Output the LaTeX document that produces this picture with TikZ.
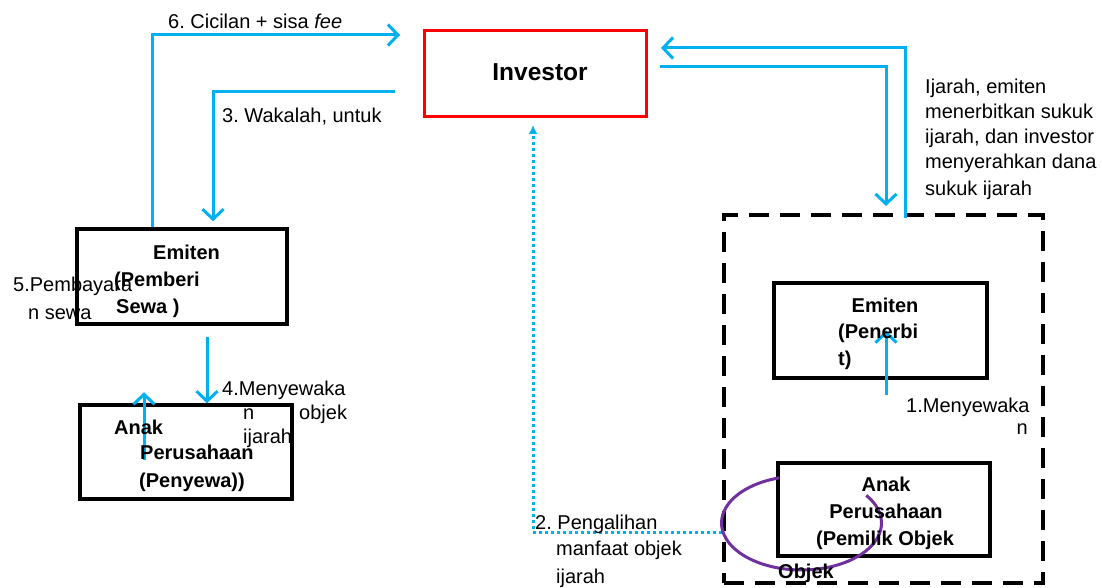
\documentclass[tikz,border=0pt]{standalone}
\usepackage{fontspec}
\setmainfont{Liberation Sans}
\usetikzlibrary{arrows.meta}
\definecolor{flowblue}{HTML}{00B0F0}
\definecolor{loopviolet}{HTML}{7030A0}
\frenchspacing
\tikzset{
    box/.style={draw, line width=3.5pt, inner sep=0pt},
    flow/.style={draw=flowblue, line width=3pt, -{Straight Barb[length=10pt,width=21pt,line width=3pt]}},
    dotflow/.style={draw=flowblue, line width=3pt, dash pattern=on 3pt off 3pt, -{Latex[length=9pt,width=9pt]}},
    txt/.style={anchor=base west, inner sep=0pt, font=\fontsize{20}{24}\selectfont},
    btxt/.style={txt, font=\fontsize{20}{24}\selectfont\bfseries},
}
\begin{document}
\begin{tikzpicture}[x=1pt, y=-1pt]
    \useasboundingbox (0,0) rectangle (1102,588);
    
    % Boxes
    \node[box, draw=red, line width=3pt, minimum width=222pt, minimum height=86pt,
          font=\fontsize{24.5}{28}\selectfont\bfseries] (investor) at (535,74)
          {\hspace*{10pt}\raisebox{4pt}{Investor}};
    \node[box, minimum width=210pt, minimum height=95pt] (emitenL) at (182,276.5) {};
    \node[box, minimum width=212pt, minimum height=94pt] (anakL) at (186,452) {};
    \node[draw, line width=4pt, dash pattern=on 20pt off 11pt, minimum width=319pt, minimum height=368pt] (group) at (883.5,399) {};
    \node[box, minimum width=213pt, minimum height=95pt] (emitenR) at (880.5,330.5) {};
    \node[box, minimum width=212pt, minimum height=93pt] (anakR) at (884,509.5) {};
    
    % Free ends
    \coordinate (t6) at (400,35);
    \coordinate (s3) at (395,92);
    \coordinate (t7) at (661,48);
    \coordinate (s8) at (660,67);
    \coordinate (s4) at (207,337);
    \coordinate (s5) at (144,460);
    \coordinate (s1) at (886,395);
    \coordinate (t2) at (533,125);
    
    % Flows left
    \draw[flow] ([xshift=-30pt]emitenL.north) |- (t6);
    \draw[flow] (s3) -| ([xshift=31pt,yshift=6pt]emitenL.north);
    \draw[flow] (s4) -- (s4 |- anakL.north);
    \draw[flow] (s5) -- ([yshift=11pt]anakL.north -| s5);
    
    % Flows right
    \draw[flow] ([xshift=21.5pt,yshift=-5pt]group.north) |- (t7);
    \draw[flow] (s8) -| ([xshift=2.5pt,yshift=7pt]group.north);
    \draw[flow] (s1) -- (s1 |- emitenR.center);
    \draw[dotflow] (group.west |- 0,532) -| (t2);
    
    % Objek loop
    \draw[domain=106:396, smooth, samples=60, variable=\x, loopviolet, line width=3pt]
        plot ({801.5+80*cos(\x)}, {523-47*sin(\x)});
    
    % Labels left
    \node[txt] (lbl6) at (168,29) {6. Cicilan + sisa \textit{fee}};
    \node[txt] (lbl3) at (222,123) {3. Wakalah, untuk};
    \node[btxt] (emL1) at (153,259) {Emiten};
    \node[btxt] (emL2) at (114,286) {(Pemberi};
    \node[btxt] (emL3) at (116,313) {Sewa )};
    \node[txt] (lbl5a) at (13,291) {5.Pembayara};
    \node[txt] (lbl5b) at (28,319) {n sewa};
    \node[txt] (lbl4a) at (222,395) {4.Menyewaka};
    \node[txt] (lbl4b) at (243,419) {n};
    \node[txt] (lbl4c) at (299,419) {objek};
    \node[txt] (lbl4d) at (243,443) {ijarah};
    \node[btxt] (anL1) at (114,434) {Anak};
    \node[btxt] (anL2) at (140,459) {Perusahaan};
    \node[btxt] (anL3) at (139,487) {(Penyewa))};
    
    % Labels right
    \node[txt] (lblR1) at (925,94) {Ijarah, emiten};
    \node[txt] (lblR2) at (925,119) {menerbitkan sukuk};
    \node[txt] (lblR3) at (925,144) {ijarah, dan investor};
    \node[txt] (lblR4) at (925,169) {menyerahkan dana};
    \node[txt] (lblR5) at (925,196) {sukuk ijarah};
    \node[btxt, anchor=base] (emR1) at (885,312) {Emiten};
    \node[btxt] (emR2) at (838,338) {(Penerbi};
    \node[btxt] (emR3) at (838,365) {t)};
    \node[txt] (lbl1a) at (906,412) {1.Menyewaka};
    \node[txt, anchor=base east] (lbl1b) at (1028,434) {n};
    \node[btxt, anchor=base] (anR1) at (886,491) {Anak};
    \node[btxt, anchor=base] (anR2) at (886,518) {Perusahaan};
    \node[btxt, anchor=base] (anR3) at (885,545) {(Pemilik Objek};
    \node[btxt] (objek) at (778,578) {Objek};
    \node[txt] (lbl2a) at (535,529) {2. Pengalihan};
    \node[txt] (lbl2b) at (556,555) {manfaat objek};
    \node[txt] (lbl2c) at (556,583) {ijarah};
\end{tikzpicture}
\end{document}
